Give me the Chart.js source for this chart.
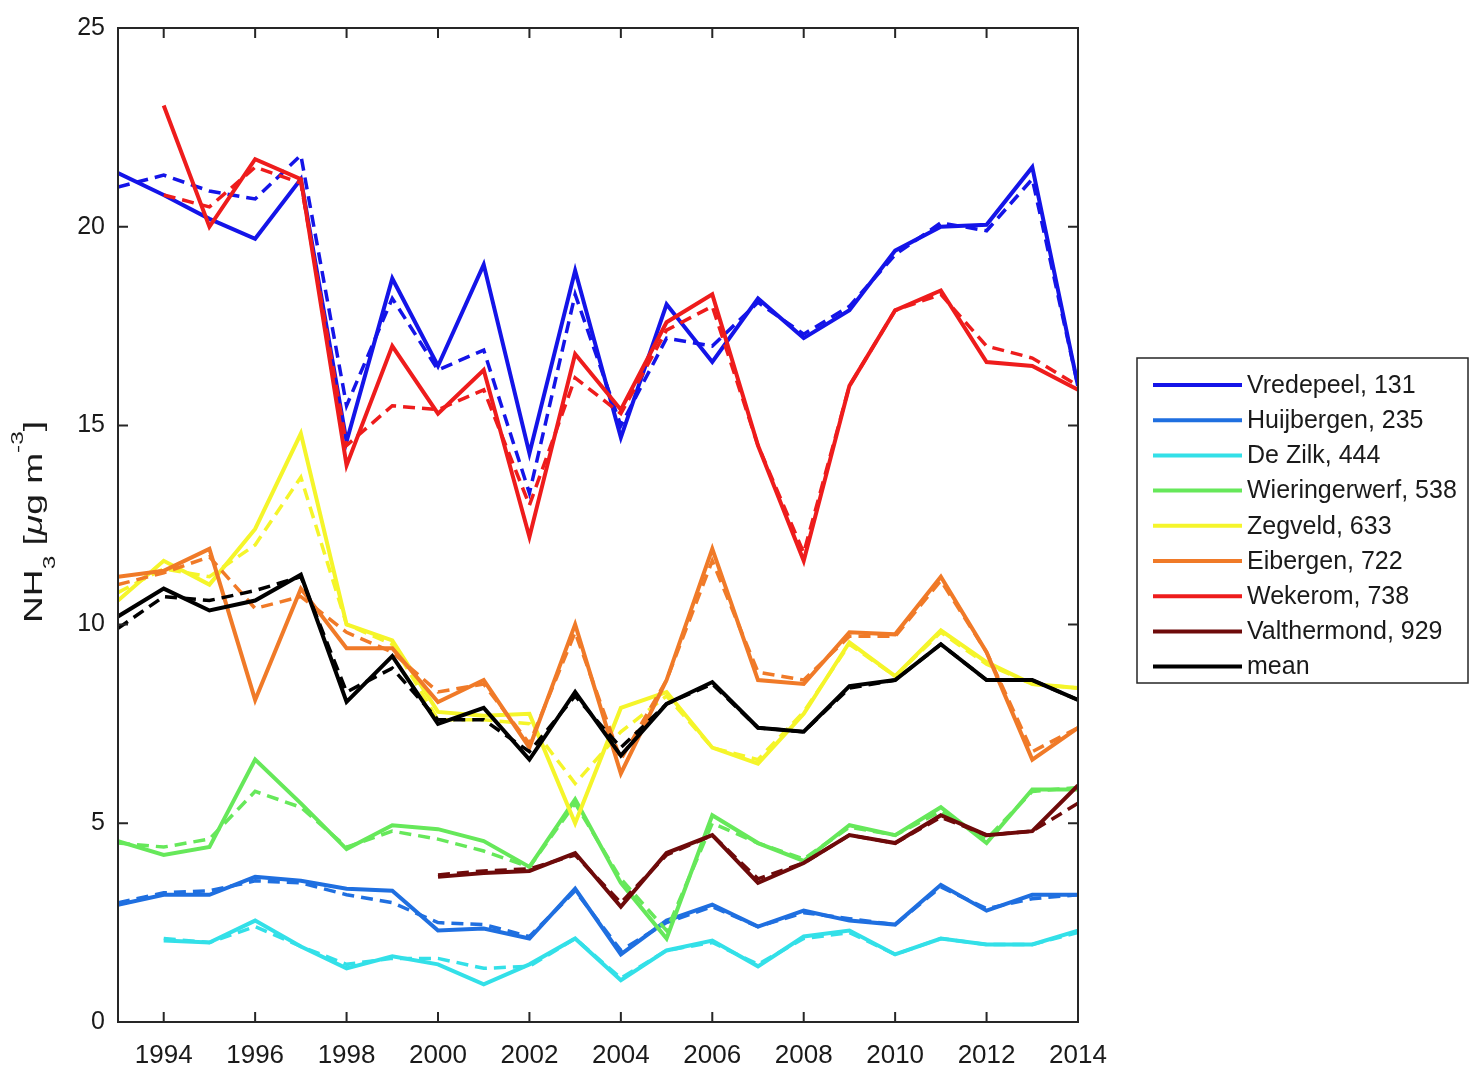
<!DOCTYPE html>
<html><head><meta charset="utf-8">
<script src="https://cdn.jsdelivr.net/npm/chart.js@4.4.0/dist/chart.umd.min.js"></script>
<style>html,body{margin:0;padding:0;background:#fff;}canvas{display:block;}</style>
</head><body>
<canvas id="c" width="1470" height="1067"></canvas>
<script>
const years = [1993,1994,1995,1996,1997,1998,1999,2000,2001,2002,2003,2004,2005,2006,2007,2008,2009,2010,2011,2012,2013,2014];
const xTickValues = [1994,1996,1998,2000,2002,2004,2006,2008,2010,2012,2014];
const yTickValues = [0,5,10,15,20,25];
const stationLabels = ['Vredepeel, 131','Huijbergen, 235','De Zilk, 444','Wieringerwerf, 538','Zegveld, 633','Eibergen, 722','Wekerom, 738','Valthermond, 929','mean'];
const stationColors = ['#1414e8','#1f6fe0','#33e0e8','#66e85a','#f5f52a','#f07a28','#ee1c1c','#6e0a0a','#000000'];
const yTitleParts = [
  {t:'NH', sub:0}, {t:'3', sub:1}, {t:' [', sub:0}, {t:'μ', sub:0, italic:true},
  {t:'g m', sub:0}, {t:'-3', sub:-1}, {t:']', sub:0}
];

const vredepeelObs = [21.35,20.8,20.2,19.7,21.2,14.6,18.7,16.5,19.05,14.3,18.9,14.7,18.05,16.6,18.2,17.2,17.9,19.4,20.0,20.05,21.5,16.0];
const vredepeelMod = [21.0,21.3,20.9,20.7,21.8,15.5,18.2,16.4,16.9,13.3,18.3,15.0,17.2,17.0,18.1,17.3,18.0,19.3,20.1,19.9,21.2,16.0];
const huijbergenObs = [2.95,3.2,3.2,3.65,3.55,3.35,3.3,2.3,2.35,2.1,3.35,1.7,2.55,2.95,2.4,2.8,2.55,2.45,3.45,2.8,3.2,3.2];
const huijbergenMod = [3.0,3.25,3.3,3.55,3.5,3.2,3.0,2.5,2.45,2.15,3.3,1.8,2.5,2.9,2.4,2.75,2.6,2.45,3.4,2.85,3.1,3.2];
const deZilkObs = [null,2.05,2.0,2.55,1.9,1.35,1.65,1.45,0.95,1.45,2.1,1.05,1.8,2.05,1.4,2.15,2.3,1.7,2.1,1.95,1.95,2.3];
const deZilkMod = [null,2.1,2.0,2.4,1.9,1.45,1.6,1.6,1.35,1.4,2.1,1.1,1.8,2.0,1.45,2.1,2.25,1.7,2.1,1.95,1.95,2.25];
const wieringerwerfObs = [4.55,4.2,4.4,6.6,5.5,4.35,4.95,4.85,4.55,3.9,5.6,3.5,2.1,5.2,4.5,4.05,4.95,4.7,5.4,4.5,5.85,5.85];
const wieringerwerfMod = [4.5,4.4,4.6,5.8,5.4,4.4,4.8,4.6,4.3,3.9,5.5,3.6,2.3,5.0,4.5,4.1,4.9,4.7,5.3,4.6,5.8,5.9];
const zegveldObs = [10.6,11.6,11.0,12.4,14.8,10.0,9.6,7.8,7.7,7.75,5.0,7.9,8.3,6.9,6.5,7.75,9.55,8.7,9.85,9.05,8.5,8.4];
const zegveldMod = [10.8,11.4,11.2,12.0,13.7,10.0,9.5,7.6,7.6,7.5,6.0,7.3,8.2,6.9,6.6,7.8,9.5,8.7,9.8,9.0,8.5,8.4];
const eibergenObs = [11.2,11.35,11.9,8.1,10.9,9.4,9.4,8.05,8.6,6.9,10.0,6.25,8.6,11.9,8.6,8.5,9.8,9.75,11.2,9.3,6.6,7.4];
const eibergenMod = [11.0,11.3,11.7,10.4,10.7,9.8,9.3,8.3,8.5,7.0,9.8,6.6,8.6,11.6,8.8,8.6,9.7,9.7,11.1,9.3,6.8,7.4];
const wekeromObs = [null,23.05,20.0,21.7,21.2,14.0,17.0,15.3,16.4,12.2,16.8,15.4,17.6,18.3,14.5,11.6,16.0,17.9,18.4,16.6,16.5,15.9];
const wekeromMod = [null,20.8,20.5,21.5,21.1,14.5,15.5,15.4,15.9,13.0,16.2,15.3,17.4,18.0,14.5,11.8,16.0,17.9,18.3,17.0,16.7,16.0];
const valthermondObs = [null,null,null,null,null,null,null,3.65,3.75,3.8,4.25,2.9,4.25,4.7,3.5,4.0,4.7,4.5,5.2,4.7,4.8,5.95];
const valthermondMod = [null,null,null,null,null,null,null,3.7,3.8,3.85,4.2,3.0,4.2,4.7,3.6,4.0,4.7,4.5,5.15,4.7,4.8,5.5];
const meanObs = [10.2,10.9,10.35,10.6,11.25,8.05,9.2,7.5,7.9,6.6,8.3,6.7,8.0,8.55,7.4,7.3,8.45,8.6,9.5,8.6,8.6,8.1];
const meanMod = [9.9,10.7,10.6,10.85,11.2,8.3,8.9,7.6,7.6,6.8,8.2,6.9,8.0,8.5,7.4,7.3,8.4,8.6,9.5,8.6,8.6,8.1];

const obsSeries = [vredepeelObs,huijbergenObs,deZilkObs,wieringerwerfObs,zegveldObs,eibergenObs,wekeromObs,valthermondObs,meanObs];
const modSeries = [vredepeelMod,huijbergenMod,deZilkMod,wieringerwerfMod,zegveldMod,eibergenMod,wekeromMod,valthermondMod,meanMod];

const toPts = arr => years.map((yr,i)=>({x:yr,y:arr[i]}));
const datasets = [];
stationLabels.forEach((lab,i)=>{
  const n = stationLabels.length;
  datasets.push({label:lab, data:toPts(obsSeries[i]), borderColor:stationColors[i], borderWidth:4, pointRadius:0, fill:false, tension:0, spanGaps:false, order:(n-i)*2, isMain:true});
  datasets.push({label:lab+' (dashed)', data:toPts(modSeries[i]), borderColor:stationColors[i], borderWidth:3.5, borderDash:[12,7], pointRadius:0, fill:false, tension:0, spanGaps:false, order:(n-i)*2-1, isMain:false});
});

const FONT = "'Liberation Sans', Arial, Helvetica, sans-serif";
const TEXT = '#1a1a1a';

const framePlugin = {
  id:'frame',
  afterDatasetsDraw(chart){
    const {ctx, chartArea:a, scales} = chart;
    const x = scales.x, y = scales.y;
    ctx.save();
    ctx.strokeStyle = '#262626';
    ctx.lineWidth = 2;
    ctx.strokeRect(a.left, a.top, a.right-a.left, a.bottom-a.top);
    ctx.beginPath();
    x.ticks.forEach(t=>{
      const px = x.getPixelForValue(t.value);
      ctx.moveTo(px, a.bottom); ctx.lineTo(px, a.bottom-10);
      ctx.moveTo(px, a.top); ctx.lineTo(px, a.top+10);
    });
    y.ticks.forEach(t=>{
      const py = y.getPixelForValue(t.value);
      ctx.moveTo(a.left, py); ctx.lineTo(a.left+10, py);
      ctx.moveTo(a.right, py); ctx.lineTo(a.right-10, py);
    });
    ctx.stroke();
    ctx.restore();
  }
};

const titlePlugin = {
  id:'yTitle',
  afterDraw(chart){
    const {ctx, chartArea:a} = chart;
    const big = 26, small = 17, targetLen = 202;
    const fontFor = p => (p.italic ? 'italic ' : '') + (p.sub ? small : big) + 'px ' + FONT;
    ctx.save();
    let total = 0;
    yTitleParts.forEach(p=>{ ctx.font = fontFor(p); p.w = ctx.measureText(p.t).width; total += p.w; });
    const sx = targetLen / total;
    ctx.translate(42, (a.top + a.bottom)/2 - 3);
    ctx.rotate(-Math.PI/2);
    ctx.scale(sx, 1);
    ctx.fillStyle = TEXT;
    ctx.textBaseline = 'alphabetic';
    ctx.textAlign = 'left';
    let pos = -total/2;
    yTitleParts.forEach(p=>{
      ctx.font = fontFor(p);
      const dy = p.sub === 1 ? 13 : (p.sub === -1 ? -19 : 0);
      ctx.fillText(p.t, pos, dy);
      pos += p.w;
    });
    ctx.restore();
  }
};

const legendPlugin = {
  id:'boxLegend',
  afterDraw(chart){
    const {ctx, chartArea:a} = chart;
    const boxL = a.right + 59, boxT = 358, boxW = 331, boxH = 325;
    ctx.save();
    ctx.fillStyle = '#fff';
    ctx.fillRect(boxL, boxT, boxW, boxH);
    ctx.strokeStyle = '#262626';
    ctx.lineWidth = 1.5;
    ctx.strokeRect(boxL, boxT, boxW, boxH);
    const mains = chart.data.datasets.filter(d=>d.isMain);
    ctx.font = '25px ' + FONT;
    ctx.textBaseline = 'middle';
    ctx.textAlign = 'left';
    mains.forEach((d,i)=>{
      const cy = boxT + 27 + i*35.2;
      ctx.strokeStyle = d.borderColor;
      ctx.lineWidth = 4;
      ctx.beginPath();
      ctx.moveTo(boxL+16, cy); ctx.lineTo(boxL+105, cy);
      ctx.stroke();
      ctx.fillStyle = TEXT;
      ctx.fillText(d.label, boxL+110, cy+1);
    });
    ctx.restore();
  }
};

new Chart(document.getElementById('c'), {
  type:'line',
  data:{datasets},
  plugins:[framePlugin, titlePlugin, legendPlugin],
  options:{
    responsive:false,
    animation:false,
    devicePixelRatio:1,
    layout:{padding:{left:0, top:22, right:392, bottom:0}},
    plugins:{legend:{display:false}, tooltip:{enabled:false}},
    scales:{
      x:{
        type:'linear', min:1993, max:2014,
        grid:{display:false, drawTicks:false},
        border:{display:false},
        afterBuildTicks(axis){ axis.ticks = xTickValues.map(v=>({value:v})); },
        afterFit(scale){ scale.height = 45; },
        ticks:{font:{family:FONT, size:26}, color:TEXT, padding:18, maxRotation:0, autoSkip:false, callback:v=>String(v)}
      },
      y:{
        type:'linear', min:0, max:25,
        grid:{display:false, drawTicks:false},
        border:{display:false},
        afterBuildTicks(axis){ axis.ticks = yTickValues.map(v=>({value:v})); },
        afterFit(scale){ scale.width = 118; },
        ticks:{font:{family:FONT, size:25}, color:TEXT, padding:13, callback:v=>String(v)},
        title:{display:false}
      }
    }
  }
});
</script>
</body></html>
